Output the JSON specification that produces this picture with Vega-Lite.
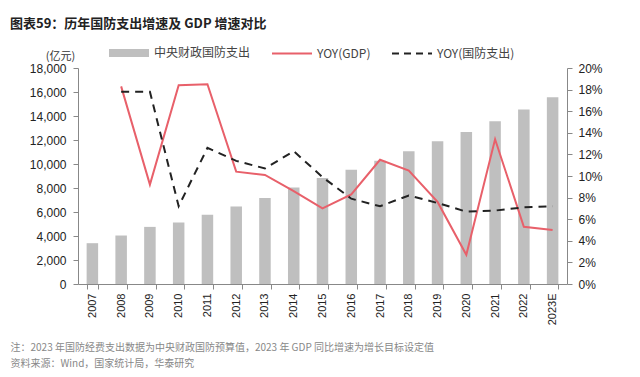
{
  "$schema": "https://vega.github.io/schema/vega-lite/v6.json",
  "autosize": {"type": "none"},
  "width": 489,
  "height": 216,
  "padding": {"left": 78, "top": 68, "right": 73, "bottom": 93},
  "background": "#ffffff",
  "config": {
    "view": {"stroke": null},
    "axis": {"labelFont": "Liberation Sans", "labelFontSize": 12, "labelColor": "#222", "domainColor": "#888", "tickColor": "#888", "grid": false, "tickSize": 5}
  },
  "title": {"text": "图表59：历年国防支出增速及 GDP 增速对比", "anchor": "start", "frame": "group", "dx": -68, "offset": 16, "fontSize": 13, "font": "Noto Sans CJK SC", "fontWeight": "bold", "color": "#222"},
  "data": {"values": [
    {"year": "2007", "spend": 3400, "gdp": null, "def": null},
    {"year": "2008", "spend": 4040, "gdp": 18.3, "def": 17.8},
    {"year": "2009", "spend": 4760, "gdp": 9.2, "def": 17.8},
    {"year": "2010", "spend": 5125, "gdp": 18.4, "def": 7.2},
    {"year": "2011", "spend": 5770, "gdp": 18.5, "def": 12.6},
    {"year": "2012", "spend": 6460, "gdp": 10.4, "def": 11.4},
    {"year": "2013", "spend": 7160, "gdp": 10.1, "def": 10.7},
    {"year": "2014", "spend": 8050, "gdp": 8.6, "def": 12.3},
    {"year": "2015", "spend": 8830, "gdp": 7.0, "def": 9.9},
    {"year": "2016", "spend": 9530, "gdp": 8.3, "def": 7.9},
    {"year": "2017", "spend": 10280, "gdp": 11.5, "def": 7.2},
    {"year": "2018", "spend": 11060, "gdp": 10.5, "def": 8.2},
    {"year": "2019", "spend": 11890, "gdp": 7.6, "def": 7.5},
    {"year": "2020", "spend": 12670, "gdp": 2.7, "def": 6.7},
    {"year": "2021", "spend": 13560, "gdp": 13.4, "def": 6.8},
    {"year": "2022", "spend": 14540, "gdp": 5.3, "def": 7.1},
    {"year": "2023E", "spend": 15570, "gdp": 5.0, "def": 7.2}
  ]},
  "encoding": {
    "x": {"field": "year", "type": "nominal", "sort": null,
      "scale": {"paddingInner": 0.6, "paddingOuter": 0.3},
      "axis": {"title": ["注：2023 年国防经费支出数据为中央财政国防预算值，2023 年 GDP 同比增速为增长目标设定值", "资料来源：Wind，国家统计局，华泰研究"],
        "titleAnchor": "start", "titleAlign": "left", "titleX": -68, "titleY": 58, "titleFont": "Noto Sans CJK SC", "titleFontSize": 10, "titleFontWeight": "normal", "titleColor": "#888", "titleLineHeight": 16, "titleBaseline": "top",
        "labelAngle": -90, "labelAlign": "right", "labelBaseline": "middle", "labelFontSize": 11, "labelPadding": 4, "tickBand": "extent"}}
  },
  "layer": [
    {
      "mark": {"type": "bar", "color": "#BFBFBF"},
      "encoding": {
        "y": {"field": "spend", "type": "quantitative", "scale": {"domain": [0, 18000], "nice": false},
          "axis": {"orient": "left", "values": [0,2000,4000,6000,8000,10000,12000,14000,16000,18000], "format": ",d", "labelOverlap": false, "labelPadding": 7, "title": "(亿元)", "titleAngle": 0, "titleAlign": "center", "titleBaseline": "middle", "titleX": -18, "titleY": -12, "titleFont": "Noto Sans CJK SC", "titleFontSize": 11, "titleFontWeight": "normal", "titleColor": "#333"}},
        "color": {"datum": "中央财政国防支出", "type": "nominal",
          "scale": {"domain": ["中央财政国防支出", "YOY(GDP)", "YOY(国防支出)"], "range": ["#BFBFBF", "#E8606A", "#222222"]},
          "legend": {"orient": "none", "legendX": 45, "legendY": -21, "direction": "horizontal", "title": null,
            "symbolSize": 100, "columnPadding": 17, "labelOffset": 19, "labelFont": "Noto Sans CJK SC", "labelFontSize": 12, "labelColor": "#444",
            "encode": {"symbols": {"update": {
              "shape": {"signal": "datum.value === '中央财政国防支出' ? 'M-3.8,-0.6H3.8V0.6H-3.8Z' : 'M-4,0H4'"},
              "size": {"value": 100},
              "strokeWidth": {"value": 2},
              "strokeDash": {"signal": "datum.value === 'YOY(国防支出)' ? [7,5] : []"},
              "fill": {"signal": "datum.value === '中央财政国防支出' ? '#BFBFBF' : 'transparent'"},
              "stroke": {"signal": "datum.value === '中央财政国防支出' ? 'transparent' : (datum.value === 'YOY(GDP)' ? '#E8606A' : '#222222')"}
            }}}}}
      }
    },
    {
      "mark": {"type": "line", "strokeWidth": 2},
      "encoding": {
        "y": {"field": "gdp", "type": "quantitative", "scale": {"domain": [0, 20], "nice": false},
          "axis": {"orient": "right", "values": [0,2,4,6,8,10,12,14,16,18,20], "labelExpr": "datum.value + '%'", "labelOverlap": false, "labelPadding": 6, "title": null}},
        "color": {"datum": "YOY(GDP)", "type": "nominal"}
      }
    },
    {
      "mark": {"type": "line", "strokeWidth": 2, "strokeDash": [8, 6]},
      "encoding": {
        "y": {"field": "def", "type": "quantitative", "scale": {"domain": [0, 20], "nice": false}, "axis": null},
        "color": {"datum": "YOY(国防支出)", "type": "nominal"}
      }
    }
  ],
  "resolve": {"scale": {"y": "independent"}}
}
